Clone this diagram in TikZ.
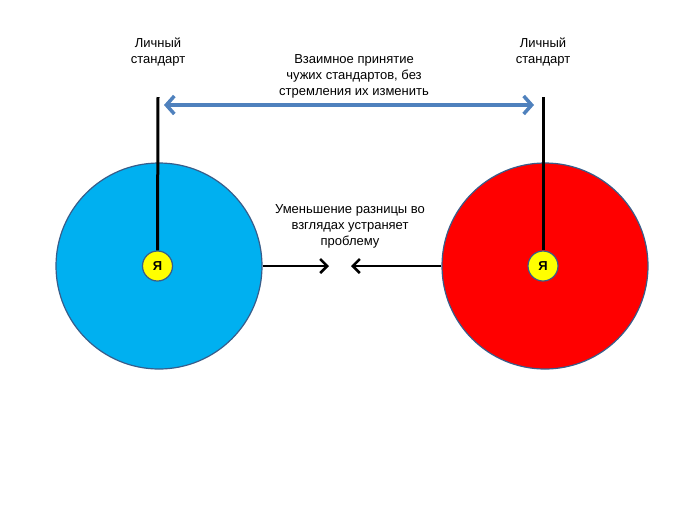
\documentclass[tikz,border=0pt]{standalone}
\usepackage{fontspec}
\setmainfont{Liberation Sans}
\usetikzlibrary{arrows.meta}
\definecolor{cblue}{RGB}{0,176,240}
\definecolor{cred}{RGB}{255,0,0}
\definecolor{cyel}{RGB}{255,255,0}
\definecolor{edgeb}{RGB}{56,93,138}
\definecolor{arrb}{RGB}{79,129,189}
\begin{document}
\begin{tikzpicture}[x=1pt,y=-1pt,
  big/.style={circle,draw=edgeb,line width=1.2pt,minimum size=206pt,inner sep=0pt},
  me/.style={circle,draw=edgeb,line width=1.2pt,fill=cyel,minimum size=30pt,inner sep=0pt,font=\bfseries\fontsize{13}{15}\selectfont},
  lbl/.style={align=center,font=\fontsize{13}{16}\selectfont,inner sep=0pt},
  stem/.style={line width=3pt,black},
  push/.style={line width=2.5pt,-{Straight Barb[length=7pt,width=14pt,line width=2.5pt]}}
]
\useasboundingbox (0,0) rectangle (679,509);
\node[big,fill=cblue] (B) at (159,266) {};
\node[big,fill=cred] (R) at (545,266) {};
\node[me] (m1) at (157.5,266) {Я};
\node[me] (m2) at (543,266) {Я};
\node[lbl] (t1) at (158,52) {Личный\\стандарт};
\node[lbl] (t2) at (543,52) {Личный\\стандарт};
\coordinate (s1) at (158,97);
\coordinate (s2) at (543,97);
\draw[stem] (s1) -- (m1.north);
\draw[stem] (s2) -- (m2.north);
\node[lbl] (mid) at (354,76) {Взаимное принятие\\чужих стандартов, без\\стремления их изменить};
\coordinate (a1) at (164,105);
\coordinate (a2) at (534,105);
\draw[line width=3.5pt,arrb,{Straight Barb[length=8pt,width=18pt,line width=3.5pt]}-{Straight Barb[length=8pt,width=18pt,line width=3.5pt]}] (a1) -- (a2);
\node[lbl] (low) at (350,226) {Уменьшение разницы во\\взглядах устраняет\\проблему};
\coordinate (p1) at (329,266);
\coordinate (p2) at (351,266);
\draw[push] (B.east) -- (p1);
\draw[push] (R.west) -- (p2);
\end{tikzpicture}
\end{document}
